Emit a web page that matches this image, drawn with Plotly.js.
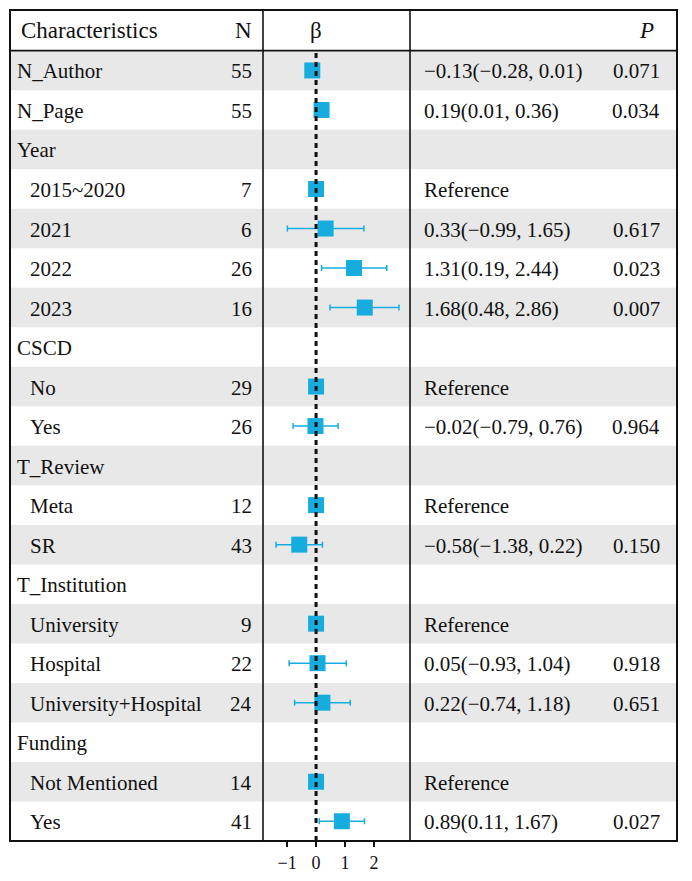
<!DOCTYPE html>
<html>
<head>
<meta charset="utf-8">
<script src="https://cdn.plot.ly/plotly-3.0.1.min.js"></script>
<style>html,body{margin:0;padding:0;background:#fff;}#chart{width:692px;height:881px;}</style>
</head>
<body>
<div id="chart"></div>
<script>
// ---- data ----
const labels = ['N_Author','N_Page','Year','2015~2020','2021','2022','2023','CSCD','No','Yes','T_Review','Meta','SR','T_Institution','University','Hospital','University+Hospital','Funding','Not Mentioned','Yes'];
const level  = [0,0,0,1,1,1,1,0,1,1,0,1,1,0,1,1,1,0,1,1];
const nCount = [55,55,null,7,6,26,16,null,29,26,null,12,43,null,9,22,24,null,14,41];
const isRef  = [0,0,0,1,0,0,0,0,1,0,0,1,0,0,1,0,0,0,1,0];
const beta   = [-0.13,0.19,null,0,0.33,1.31,1.68,null,0,-0.02,null,0,-0.58,null,0,0.05,0.22,null,0,0.89];
const lower  = [-0.28,0.01,null,null,-0.99,0.19,0.48,null,null,-0.79,null,null,-1.38,null,null,-0.93,-0.74,null,null,0.11];
const upper  = [0.01,0.36,null,null,1.65,2.44,2.86,null,null,0.76,null,null,0.22,null,null,1.04,1.18,null,null,1.67];
const pval   = [0.071,0.034,null,null,0.617,0.023,0.007,null,null,0.964,null,null,0.150,null,null,0.918,0.651,null,null,0.027];
const xTicks = [-1,0,1,2];

// ---- layout constants (pixels) ----
const W = 692, H = 881;
const boxL = 10, boxR = 677, boxT = 10, boxB = 841, headB = 50.7;
const col1 = 263, col2 = 410;
const px = v => v / W;
const py = v => 1 - v / H;
const FONT = 'Liberation Serif, DejaVu Serif, serif';
const BLUE = '#16ADDE';
const fmt = v => v.toFixed(2).replace('-', '\u2212');

const rows = labels.map((_, i) => i);
const nRows = labels.length;

const shapes = [];
rows.forEach(i => {
  if (i % 2 === 0) {
    shapes.push({type:'rect', xref:'paper', yref:'y', x0:px(boxL+1), x1:px(boxR-1), y0:i-0.5, y1:i+0.5,
      fillcolor:'#E8E8E8', line:{width:0}, layer:'below'});
  }
});
shapes.push({type:'rect', xref:'paper', yref:'paper', x0:px(boxL), x1:px(boxR), y0:py(boxB), y1:py(boxT),
  line:{color:'#111', width:2}, fillcolor:'rgba(0,0,0,0)', layer:'above'});
shapes.push({type:'line', xref:'paper', yref:'paper', x0:px(boxL), x1:px(boxR), y0:py(headB), y1:py(headB),
  line:{color:'#111', width:1.8}, layer:'above'});
[col1, col2].forEach(c => shapes.push({type:'line', xref:'paper', yref:'paper', x0:px(c), x1:px(c), y0:py(boxB), y1:py(boxT),
  line:{color:'#111', width:1.6}, layer:'above'}));
shapes.push({type:'line', xref:'x', yref:'paper', x0:0, x1:0, y0:py(boxB), y1:py(headB),
  line:{color:'#111', width:3, dash:'5px,4px'}, layer:'above'});

const ann = [];
const txt = (text, x, y, anchor, opts={}) => ann.push(Object.assign({
  text, x, y, xref:'paper', yref:'y', xanchor:anchor, yanchor:'middle', showarrow:false,
  font:{family:FONT, size:21, color:'#111'}, yshift:-1}, opts));

const hdrY = (boxT + headB) / 2;
const hdr = (text, x, anchor) => ann.push({text, x:px(x), y:py(hdrY), xref:'paper', yref:'paper',
  xanchor:anchor, yanchor:'middle', showarrow:false, font:{family:FONT, size:23, color:'#111'}});
hdr('Characteristics', 19, 'left');
hdr('N', 254, 'right');
hdr('\u03B2', 316, 'center');
hdr('<i>P</i>', 656, 'right');

rows.forEach(i => {
  txt(labels[i], px(level[i] ? 28 : 15), i, 'left');
  if (nCount[i] !== null) txt(String(nCount[i]), px(254), i, 'right');
  if (isRef[i]) txt('Reference', px(422), i, 'left');
  else if (beta[i] !== null) txt(fmt(beta[i]) + '(' + fmt(lower[i]) + ', ' + fmt(upper[i]) + ')', px(422), i, 'left');
  if (pval[i] !== null) txt(pval[i].toFixed(3), px(662), i, 'right');
});

const ptsIdx = rows.filter(i => beta[i] !== null);
const trace = {
  type:'scatter', mode:'markers',
  x: ptsIdx.map(i => beta[i]),
  y: ptsIdx.map(i => i),
  marker:{symbol:'square', size:16, color:BLUE, line:{width:0}},
  error_x:{type:'data', symmetric:false,
    array: ptsIdx.map(i => upper[i] === null ? 0 : upper[i] - beta[i]),
    arrayminus: ptsIdx.map(i => lower[i] === null ? 0 : beta[i] - lower[i]),
    color:BLUE, thickness:1.5, width:3},
  hoverinfo:'skip', showlegend:false, cliponaxis:false
};

const layout = {
  width:W, height:H, margin:{l:0, r:0, t:0, b:0},
  paper_bgcolor:'#fff', plot_bgcolor:'rgba(0,0,0,0)',
  showlegend:false,
  font:{family:FONT},
  xaxis:{domain:[px(col1), px(col2)], range:[-1.83, 3.24], tickvals:xTicks, ticktext:xTicks.map(v => v < 0 ? '\u2212' + Math.abs(v) : String(v)),
    ticks:'outside', ticklen:5, tickwidth:1.2, tickcolor:'#111', showgrid:false, zeroline:false, showline:false,
    tickfont:{family:FONT, size:18, color:'#111'}, fixedrange:true},
  yaxis:{domain:[py(boxB), py(headB)], range:[nRows - 0.5, -0.5], showticklabels:false, showgrid:false,
    zeroline:false, showline:false, ticks:'', fixedrange:true},
  shapes, annotations:ann
};

Plotly.newPlot('chart', [trace], layout, {displayModeBar:false, staticPlot:true});
</script>
</body>
</html>
